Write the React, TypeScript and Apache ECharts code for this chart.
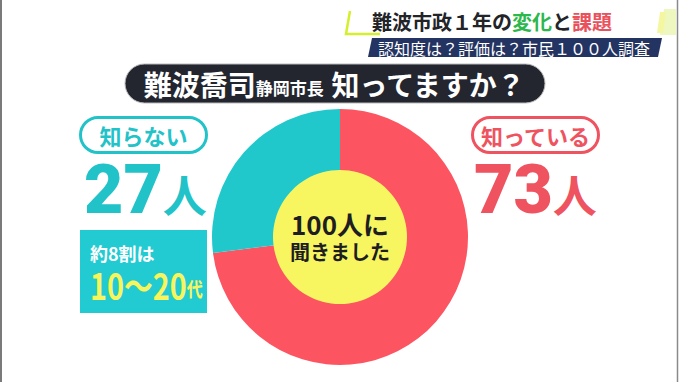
import React, { useEffect, useRef } from "react";
import * as echarts from "echarts";

const categories = ["知っている", "知らない"];
const values = [73, 27];
const sliceColors = ["#fc5561", "#20c8cc"];
const unit = "人";
const headline = "難波市政１年の";
const headlineGreen = "変化";
const headlineMid = "と";
const headlineRed = "課題";
const subtitle = "認知度は？評価は？市民１００人調査";
const questionName = "難波喬司";
const questionRole = "静岡市長";
const questionTail = " 知ってますか？";
const centerLines = ["100人に", "聞きました"];
const noteLine1 = "約8割は";
const noteLine2 = "10〜20";
const noteSuffix = "代";

const FONT = '"Noto Sans CJK JP", "Noto Sans", sans-serif';
const RED_TEXT = "#ef5360";
const TEAL_TEXT = "#22c3c8";

export default function App() {
  const ref = useRef<HTMLDivElement>(null);
  useEffect(() => {
    document.body.style.margin = "0";
    if (!ref.current) return;
    const chart = echarts.init(ref.current, null, { renderer: "svg" });
    const cx = 340;
    const cy = 237;
    const elements: any[] = [
      // frame borders
      { type: "line", shape: { x1: 1, y1: 0, x2: 1, y2: 382 }, style: { stroke: "#7a7a7a", lineWidth: 2 } },
      { type: "line", shape: { x1: 677.5, y1: 0, x2: 677.5, y2: 382 }, style: { stroke: "#8a8a8a", lineWidth: 1.5 } },
      // header bracket
      {
        type: "polyline",
        shape: { points: [[350, 11], [346, 34], [380, 34]] },
        style: { stroke: "#d6ef2c", lineWidth: 2.5, fill: null },
      },
      {
        type: "polygon",
        shape: { points: [[664, 9], [676, 9], [676, 35], [660, 35]] },
        style: { fill: "#eef7c0" },
      },
      {
        type: "polygon",
        shape: { points: [[660, 12], [666, 12], [663, 33], [657, 33]] },
        style: { fill: "#f4f6a0" },
      },
      {
        type: "text",
        x: 372,
        y: 21,
        style: {
          text: `{d|${headline}}{g|${headlineGreen}}{d|${headlineMid}}{r|${headlineRed}}`,
          verticalAlign: "middle",
          rich: {
            d: { fontFamily: FONT, fontSize: 20, fontWeight: "bold", fill: "#222428" },
            g: { fontFamily: FONT, fontSize: 20, fontWeight: "bold", fill: "#2cb84c" },
            r: { fontFamily: FONT, fontSize: 20, fontWeight: "bold", fill: "#e9515d" },
          },
        },
      },
      {
        type: "polygon",
        shape: { points: [[372, 38], [662, 38], [658, 57], [368, 57]] },
        style: { fill: "#233462" },
      },
      {
        type: "text",
        x: 378,
        y: 47.5,
        style: {
          text: subtitle,
          fontFamily: FONT,
          fontSize: 16,
          fill: "#ffffff",
          verticalAlign: "middle",
        },
      },
      // question pill
      {
        type: "rect",
        shape: { x: 125, y: 64, width: 420, height: 39, r: 19.5 },
        style: { fill: "#23252f", stroke: "#bbbbbb", lineWidth: 1 },
      },
      {
        type: "text",
        x: 335,
        y: 84,
        style: {
          text: `{a|${questionName}}{b|${questionRole}}{a|${questionTail}}`,
          align: "center",
          verticalAlign: "middle",
          rich: {
            a: { fontFamily: FONT, fontSize: 28, fontWeight: "bold", fill: "#ffffff" },
            b: { fontFamily: FONT, fontSize: 17, fontWeight: "bold", fill: "#ffffff", padding: [7, 0, 0, 0] },
          },
        },
      },
      // left: 知らない
      {
        type: "rect",
        shape: { x: 80.5, y: 117.5, width: 126, height: 35, r: 17.5 },
        style: { fill: "#ffffff", stroke: TEAL_TEXT, lineWidth: 3 },
      },
      {
        type: "text",
        x: 143.5,
        y: 135,
        style: {
          text: categories[1],
          fontFamily: FONT,
          fontSize: 22,
          fontWeight: "bold",
          fill: TEAL_TEXT,
          align: "center",
          verticalAlign: "middle",
        },
      },
      {
        type: "text",
        x: 84,
        y: 190,
        style: {
          text: `{n|${values[1]}}{u|${unit}}`,
          verticalAlign: "middle",
          rich: {
            n: { fontFamily: "Roboto, sans-serif", fontSize: 68, fontWeight: 900, fill: TEAL_TEXT },
            u: { fontFamily: FONT, fontSize: 44, fontWeight: "bold", fill: TEAL_TEXT, padding: [8, 0, 0, 0] },
          },
        },
      },
      {
        type: "rect",
        shape: { x: 80, y: 230, width: 127, height: 83 },
        style: { fill: "#21cbd1" },
      },
      {
        type: "text",
        x: 90,
        y: 253,
        style: {
          text: noteLine1,
          fontFamily: FONT,
          fontSize: 18,
          fontWeight: "bold",
          fill: "#ffffff",
          verticalAlign: "middle",
        },
      },
      {
        type: "text",
        x: 90,
        y: 284,
        scaleX: 0.8,
        originX: 0,
        originY: 0,
        style: {
          text: `{n|${noteLine2}}{s|${noteSuffix}}`,
          verticalAlign: "middle",
          rich: {
            n: { fontFamily: FONT, fontSize: 36, fontWeight: "bold", fill: "#f8f55c" },
            s: { fontFamily: FONT, fontSize: 20, fontWeight: "bold", fill: "#f8f55c", padding: [8, 0, 0, 0] },
          },
        },
      },
      // right: 知っている
      {
        type: "rect",
        shape: { x: 472.5, y: 117.5, width: 126, height: 35, r: 17.5 },
        style: { fill: "#ffffff", stroke: RED_TEXT, lineWidth: 3 },
      },
      {
        type: "text",
        x: 535.5,
        y: 135,
        style: {
          text: categories[0],
          fontFamily: FONT,
          fontSize: 22,
          fontWeight: "bold",
          fill: RED_TEXT,
          align: "center",
          verticalAlign: "middle",
        },
      },
      {
        type: "text",
        x: 474,
        y: 190,
        style: {
          text: `{n|${values[0]}}{u|${unit}}`,
          verticalAlign: "middle",
          rich: {
            n: { fontFamily: "Roboto, sans-serif", fontSize: 68, fontWeight: 900, fill: RED_TEXT },
            u: { fontFamily: FONT, fontSize: 44, fontWeight: "bold", fill: RED_TEXT, padding: [8, 0, 0, 0] },
          },
        },
      },
      // center text (single element, two lines)
      {
        type: "text",
        x: cx,
        y: 236,
        style: {
          text: `{a|${centerLines[0]}}\n{b|${centerLines[1]}}`,
          align: "center",
          verticalAlign: "middle",
          rich: {
            a: { fontFamily: FONT, fontSize: 26, fontWeight: "bold", fill: "#1e1e22", lineHeight: 30, align: "center" },
            b: { fontFamily: FONT, fontSize: 20, fontWeight: "bold", fill: "#1e1e22", lineHeight: 26, align: "center" },
          },
        },
      },
    ];
    chart.setOption({
      animation: false,
      backgroundColor: "#ffffff",
      series: [
        {
          type: "pie",
          center: [cx, cy],
          radius: [66, 128],
          startAngle: 90,
          clockwise: true,
          silent: true,
          z: 1,
          label: { show: false },
          labelLine: { show: false },
          itemStyle: { borderWidth: 0 },
          data: categories.map((c, i) => ({
            name: c,
            value: values[i],
            itemStyle: { color: sliceColors[i] },
          })),
        },
        {
          type: "pie",
          center: [cx, cy],
          radius: [0, 67],
          silent: true,
          z: 1,
          label: { show: false },
          labelLine: { show: false },
          data: [{ name: "center", value: 1, itemStyle: { color: "#f8f660" } }],
        },
      ],
      graphic: { elements: elements.map((e) => ({ ...e, z: 100 })) },
    });
    return () => chart.dispose();
  }, []);
  return <div ref={ref} style={{ width: 680, height: 382 }} />;
}
